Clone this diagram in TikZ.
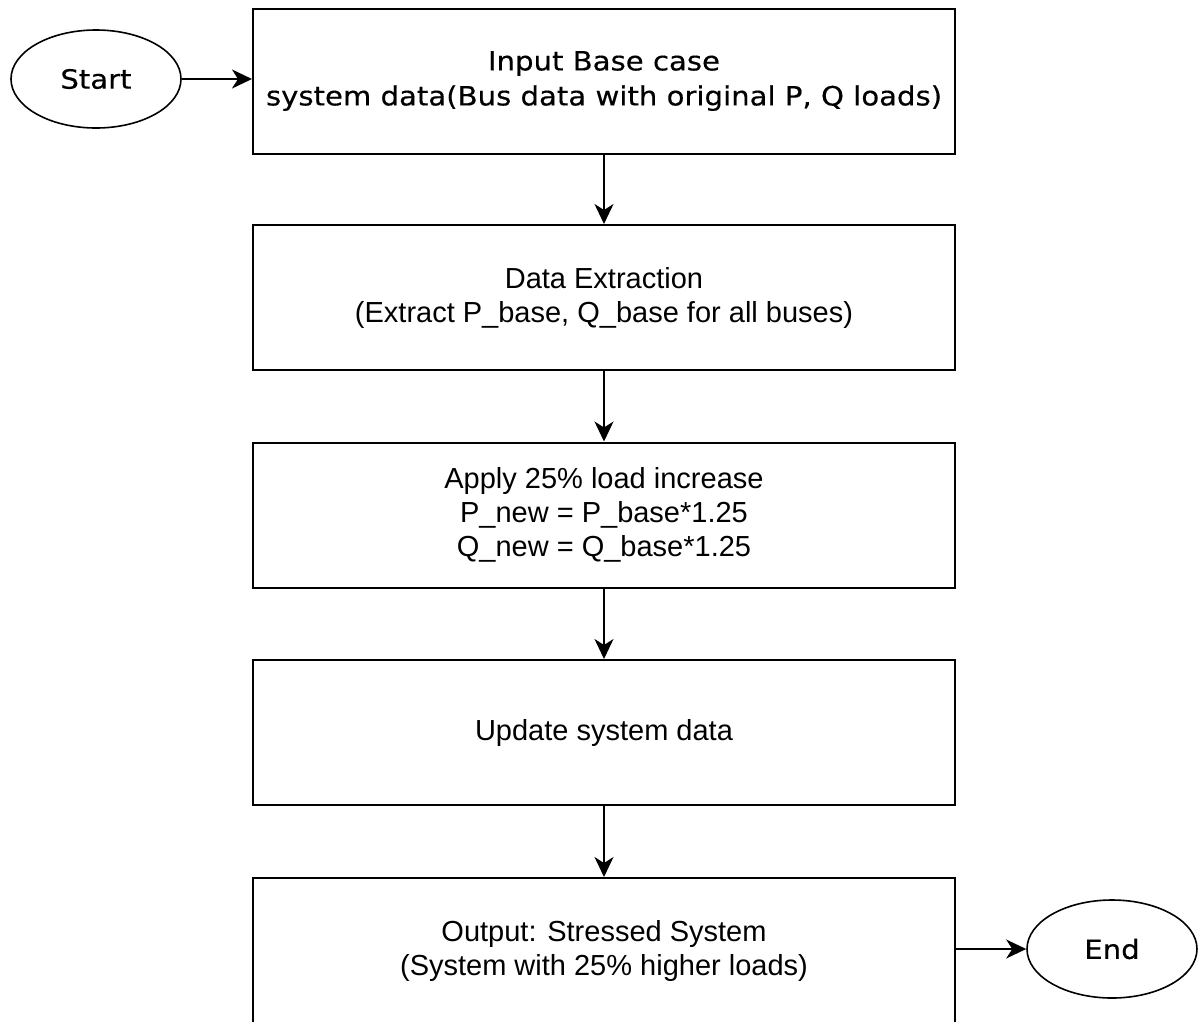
\documentclass[tikz,border=0pt]{standalone}
\usepackage{fontspec}
\setmainfont{Liberation Sans}
\newfontfamily\dvs[FakeStretch=1.1,FakeBold=0.4]{DejaVu Sans}
\usetikzlibrary{arrows.meta,shapes.geometric}
\begin{document}
\begin{tikzpicture}[x=1pt,y=-1pt,
  procbox/.style={draw, line width=2pt, minimum width=702pt, minimum height=145pt, align=center, font=\fontsize{29}{34}\selectfont, inner sep=0pt},
  term/.style={draw, line width=1.6pt, ellipse, minimum width=170pt, minimum height=98pt, inner sep=0pt, font=\dvs\fontsize{26.5}{30}\selectfont},
  conn/.style={line width=1.8pt, -{Stealth[length=20pt,width=19pt,inset=6pt]}}]
\useasboundingbox (0,0) rectangle (1203,1021);
\node[procbox, font=\dvs\fontsize{26.5}{35}\selectfont] (b1) at (604,81) {Input Base case\\system data(Bus data with original P, Q loads)};
\node[procbox] (b2) at (604,297.5) {Data Extraction\\(Extract P\_base, Q\_base for all buses)};
\node[procbox] (b3) at (604,515) {Apply 25\% load increase\\P\_new = P\_base*1.25\\Q\_new = Q\_base*1.25};
\node[procbox] (b4) at (604,732.5) {Update system data};
\node[procbox] (b5) at (604,950.5) {Output: Stressed System\\(System with 25\% higher loads)};
\node[term] (start) at (96,79) {Start};
\node[term] (end) at (1112,949) {End};
\draw[conn] (start) -- (b1.west |- start);
\draw[conn] (b1) -- (b2);
\draw[conn] (b2) -- (b3);
\draw[conn] (b3) -- (b4);
\draw[conn] (b4) -- (b5);
\draw[conn] (b5.east |- end) -- (end);
\end{tikzpicture}
\end{document}
